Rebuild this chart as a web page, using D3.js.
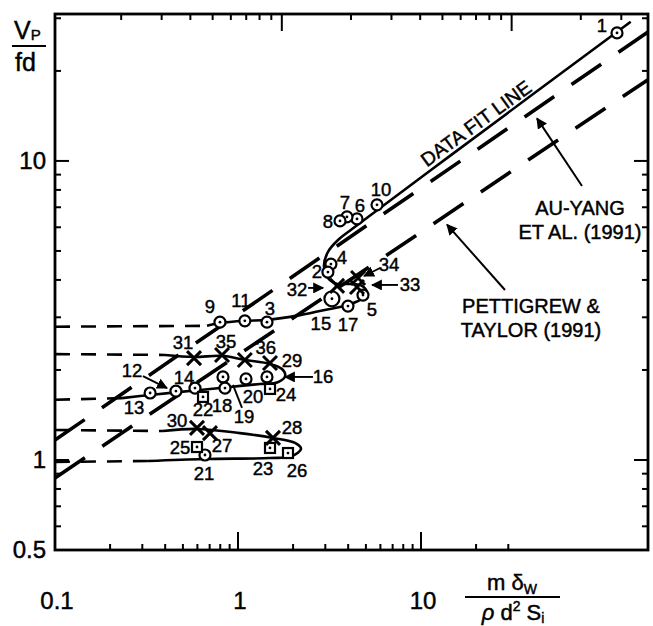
<!DOCTYPE html>
<html><head><meta charset="utf-8">
<script src="https://cdn.jsdelivr.net/npm/d3@7"></script>
<style>
body{margin:0;background:#fff}
svg text{font-family:"Liberation Sans",Arial,Helvetica,sans-serif;fill:#000;stroke:#000;stroke-width:0.45px}
</style></head><body>
<svg id="chart" width="653" height="626"></svg>
<script>
// ---------- data ----------
// reduced mass-damping parameter (x) vs reduced velocity Vp/fd (y)
const bottomMinor = [0.2,0.3,0.4,0.5,0.6,0.7,0.8,0.9,2,3,4,5,6,7,8,9,20,30];
const bottomMajor = [1,10];
const bottomLabels = ["0.1","1","10"];
const bottomLabelValues = [0.1,1,10];
const topMinor = [0.2,0.3,0.4,0.5,0.6,0.7,0.8,0.9,2,3,4,5,6,7,8,9,20,30];
const topMajor = [1,10];
const yMinor = [0.6,0.7,0.8,0.9,2,3,4,5,6,7,8,9,20,30];
const yMajor = [1,10];
const yLabels = ["0.5","1","10"];
const yLabelValues = [0.5,1,10];

// data points: circles (with centre dot), squares, crosses
const circlePts = [
  {id:"1",x:117.8,y:26.8},{id:"10",x:5.75,y:7.13},{id:"6",x:4.47,y:6.40},
  {id:"7",x:3.94,y:6.50},{id:"8",x:3.61,y:6.30},{id:"4",x:3.22,y:4.52},
  {id:"2",x:3.10,y:4.25},{id:"3",x:1.44,y:2.89},{id:"9",x:0.797,y:2.89},
  {id:"11",x:1.09,y:2.92},{id:"15",x:3.26,y:3.46,big:true},{id:"17",x:3.99,y:3.27},
  {id:"5",x:4.82,y:3.56},
  {id:"13",x:0.331,y:1.675},{id:"12",x:0.458,y:1.70},{id:"14",x:0.582,y:1.74},
  {id:"19",x:0.828,y:1.895},{id:"18",x:0.849,y:1.74},{id:"20",x:1.106,y:1.866},
  {id:"16",x:1.44,y:1.895},{id:"21",x:0.660,y:1.039}
];
const squarePts = [
  {id:"22",x:0.644,y:1.625},{id:"24",x:1.496,y:1.728},{id:"25",x:0.597,y:1.105},
  {id:"23",x:1.496,y:1.097},{id:"26",x:1.876,y:1.055}
];
const crossPts = [
  {id:"31",x:0.575,y:2.19},{id:"35",x:0.818,y:2.245},{id:"36",x:1.09,y:2.16},
  {id:"29",x:1.496,y:2.11},{id:"30",x:0.597,y:1.28},{id:"27",x:0.703,y:1.23},
  {id:"28",x:1.553,y:1.185},{id:"32",x:3.48,y:3.82},{id:"33",x:4.47,y:3.79},
  {id:"34",x:4.53,y:4.06}
];

// faired response curves
const upperLead = [[0.1,2.79],[0.677,2.81]];
const upperCurve = [[0.677,2.81],[0.797,2.87],[1.09,2.92],[1.44,2.94],[2.18,3.05],
  [3.18,3.20],[3.99,3.30],[4.64,3.43],[5.07,3.62],[4.76,3.82],[4.09,3.88],[3.48,3.88],
  [3.10,4.06],[2.95,4.46],[3.10,4.96],[3.52,5.44],[4.20,5.92],[14.4,10.4],[140,29.2]];
const midLead = [[0.1,2.26],[0.399,2.245]];
const midCurve = [[0.399,2.245],[0.575,2.21],[0.818,2.23],[1.09,2.16],[1.496,2.095],
  [1.74,2.015],[1.81,1.91],[1.65,1.82],[1.32,1.795],[0.904,1.755],[0.620,1.714],
  [0.331,1.65],[0.2324,1.61]];
const midTail = [[0.2324,1.61],[0.1,1.59]];
const lowLead = [[0.1,1.26],[0.389,1.25]];
const lowCurve = [[0.389,1.25],[0.597,1.27],[1.025,1.23],[1.553,1.185],[2.05,1.14],
  [2.21,1.089],[1.97,1.03],[1.496,1.015],[0.660,1.008],[0.322,0.992]];
const lowTail = [[0.322,0.992],[0.1,0.985]];

// design lines
const auYangLine = [[0.1,1.166],[174,27.0]];
const pettigrewLine = [[0.1,0.871],[174,18.7]];

// ---------- layout ----------
const x = d3.scaleLog().domain([0.1,174]).range([55,648]);
const xTop = d3.scaleLog().domain([0.1,40]).range([52,650]);
const y = d3.scaleLog().domain([0.5,31]).range([550,14]);

// label placement relative to each marker (pixels)
const labelOffset = {
  "1":[-15,-7],"10":[4,-15],"6":[3,-13],"7":[-2,-14],"8":[-12,1],"4":[11,-7],
  "2":[-11,-1],"3":[3,-14],"9":[-10,-16],"11":[-4,-20],"15":[-11,25],"17":[0,18],
  "5":[9,14],"13":[-16,15],"12":[-44,-21],"14":[-11,-11],"19":[21,40],"18":[-3,17],
  "20":[7,18],"16":[56,0],"21":[-1,18],"22":[0,13],"24":[16,6],"25":[-17,0],
  "23":[-7,21],"26":[9,17],"31":[-11,-16],"35":[4,-13],"36":[21,-12],"29":[22,-3],
  "30":[-20,-7],"27":[12,12],"28":[19,-10],"32":[-40,4],"33":[53,-2],"34":[31,-14]
};
const pointerLines = [
  {id:"33",from:[41,-2],to:[15,-2],head:true},
  {id:"34",from:[22,-10],to:[6,-2],head:true},
  {id:"32",from:[-29,2],to:[-14,2],head:true},
  {id:"16",from:[46,0],to:[18,0],head:true},
  {id:"12",from:[-33,-15],to:[-9,-3],head:true},
  {id:"19",from:[19,31],to:[10,8],head:false}
];

const svg = d3.select("#chart");
const defs = svg.append("defs");
defs.append("marker").attr("id","ah").attr("viewBox","0 0 10 10")
  .attr("refX",9).attr("refY",5).attr("markerWidth",11).attr("markerHeight",11)
  .attr("orient","auto").attr("markerUnits","userSpaceOnUse")
  .append("path").attr("d","M0,0L10,5L0,10z").attr("fill","#000");

const g = svg.append("g");

// frame
const x0 = x.range()[0], x1 = x.range()[1], yb = y.range()[0], yt = y.range()[1];
g.append("rect").attr("x",x0).attr("y",yt).attr("width",x1-x0).attr("height",yb-yt)
  .attr("fill","none").attr("stroke","#000").attr("stroke-width",2.8);

// ticks (all pointing inward)
const tk = g.append("g").attr("stroke","#000").attr("stroke-width",2);
function hTicks(vals,len,scale,yPos,dir){
  tk.selectAll(null).data(vals).enter().append("line")
    .attr("x1",d=>scale(d)).attr("x2",d=>scale(d))
    .attr("y1",yPos).attr("y2",yPos+dir*len);
}
function vTicks(vals,len,xPos,dir){
  tk.selectAll(null).data(vals).enter().append("line")
    .attr("y1",d=>y(d)).attr("y2",d=>y(d))
    .attr("x1",xPos).attr("x2",xPos+dir*len);
}
hTicks(bottomMinor,6,x,yb,-1);
hTicks(bottomMajor,18,x,yb,-1);
hTicks(topMinor,6,xTop,yt,1);
hTicks(topMajor,17,xTop,yt,1);
vTicks(yMinor,6,x0,1);
vTicks(yMajor,14,x0,1);
vTicks(yMinor,6,x1,-1);
vTicks(yMajor,14,x1,-1);

// tick labels
g.selectAll(null).data(bottomLabelValues).enter().append("text")
  .attr("x",d=>x(d)+2).attr("y",609).attr("text-anchor","middle")
  .attr("font-size",24).text((d,i)=>bottomLabels[i]);
g.selectAll(null).data(yLabelValues).enter().append("text")
  .attr("x",46).attr("y",d=>y(d)+8).attr("text-anchor","end")
  .attr("font-size",24).text((d,i)=>yLabels[i]);

// axis titles
const yt1 = g.append("text").attr("x",14).attr("y",39).attr("font-size",25);
yt1.append("tspan").text("V");
yt1.append("tspan").attr("font-size",15).attr("dy",1).text("P");
g.append("line").attr("x1",12).attr("x2",46).attr("y1",46).attr("y2",46)
  .attr("stroke","#000").attr("stroke-width",2.2);
g.append("text").attr("x",15).attr("y",71).attr("font-size",25).text("fd");

const xt1 = g.append("text").attr("x",512).attr("y",590).attr("font-size",22).attr("text-anchor","middle");
xt1.append("tspan").text("m δ");
xt1.append("tspan").attr("font-size",14).attr("dy",4).text("W");
g.append("line").attr("x1",465).attr("x2",560).attr("y1",597).attr("y2",597)
  .attr("stroke","#000").attr("stroke-width",2.2);
const xt2 = g.append("text").attr("x",513).attr("y",620).attr("font-size",22).attr("text-anchor","middle");
xt2.append("tspan").attr("font-style","italic").text("ρ");
xt2.append("tspan").text(" d");
xt2.append("tspan").attr("font-size",14).attr("dy",-9).text("2");
xt2.append("tspan").attr("dy",9).text(" S");
xt2.append("tspan").attr("font-size",14).attr("dy",3).text("i");

// lines
const line = d3.line().x(d=>x(d[0])).y(d=>y(d[1]));
const curve = d3.line().x(d=>x(d[0])).y(d=>y(d[1])).curve(d3.curveCatmullRom.alpha(0.5));
const lg = g.append("g").attr("fill","none").attr("stroke","#000");

lg.append("path").attr("d",line(auYangLine)).attr("stroke-width",3.6).attr("stroke-dasharray","36,21");
lg.append("path").attr("d",line(pettigrewLine)).attr("stroke-width",3.6).attr("stroke-dasharray","36,21");

[upperLead,midLead,midTail,lowLead,lowTail].forEach(s=>{
  lg.append("path").attr("d",line(s)).attr("stroke-width",2.6).attr("stroke-dasharray","15,11");
});
[upperCurve,midCurve,lowCurve].forEach(s=>{
  lg.append("path").attr("d",curve(s)).attr("stroke-width",2.6).attr("stroke-linejoin","round");
});

// markers
const mg = g.append("g");
circlePts.forEach(p=>{
  const cx=x(p.x), cy=y(p.y), r=p.big?7.5:5.5;
  mg.append("circle").attr("cx",cx).attr("cy",cy).attr("r",r)
    .attr("fill","#fff").attr("stroke","#000").attr("stroke-width",2.2);
  mg.append("circle").attr("cx",cx).attr("cy",cy).attr("r",1.4).attr("fill","#000");
});
squarePts.forEach(p=>{
  const cx=x(p.x), cy=y(p.y), s=10;
  mg.append("rect").attr("x",cx-s/2).attr("y",cy-s/2).attr("width",s).attr("height",s)
    .attr("fill","#fff").attr("stroke","#000").attr("stroke-width",2.2);
  mg.append("circle").attr("cx",cx).attr("cy",cy).attr("r",1.4).attr("fill","#000");
});
crossPts.forEach(p=>{
  const cx=x(p.x), cy=y(p.y), s=7;
  mg.append("path").attr("d",`M${cx-s},${cy-s}L${cx+s},${cy+s}M${cx-s},${cy+s}L${cx+s},${cy-s}`)
    .attr("stroke","#000").attr("stroke-width",3);
});

// point numbers
const allPts = circlePts.concat(squarePts, crossPts);
const byId = {}; allPts.forEach(p=>byId[p.id]=p);
allPts.forEach(p=>{
  const o = labelOffset[p.id]||[0,-14];
  g.append("text").attr("x",x(p.x)+o[0]).attr("y",y(p.y)+o[1]+6.5)
    .attr("text-anchor","middle").attr("font-size",18.5).text(p.id);
});
pointerLines.forEach(a=>{
  const p = byId[a.id], px=x(p.x), py=y(p.y);
  const l = g.append("line").attr("x1",px+a.from[0]).attr("y1",py+a.from[1])
    .attr("x2",px+a.to[0]).attr("y2",py+a.to[1]).attr("stroke","#000").attr("stroke-width",1.9);
  if(a.head) l.attr("marker-end","url(#ah)");
});

// annotations
g.append("text").attr("font-size",19.5)
  .attr("transform",`translate(${x(14.4)+30},${y(10.4)-27}) rotate(-36)`)
  .attr("text-anchor","middle").text("DATA FIT LINE");

const ann = [
  {lines:["AU-YANG","ET AL. (1991)"],cx:580,y0:215},
  {lines:["PETTIGREW &","TAYLOR (1991)"],cx:531,y0:313}
];
ann.forEach(a=>a.lines.forEach((t,i)=>{
  g.append("text").attr("x",a.cx).attr("y",a.y0+i*24).attr("text-anchor","middle")
    .attr("font-size",20).text(t);
}));
// annotation arrows to the design lines
const annArrows = [
  {from:[582,186],toX:x.invert(537)},
  {from:[505,290],toX:x.invert(447)}
];
const designLines = [auYangLine,pettigrewLine];
annArrows.forEach((a,i)=>{
  const L = designLines[i];
  // point on the design line at toX (log-linear interpolation)
  const t = (Math.log(a.toX)-Math.log(L[0][0]))/(Math.log(L[1][0])-Math.log(L[0][0]));
  const ty = Math.exp(Math.log(L[0][1])+t*(Math.log(L[1][1])-Math.log(L[0][1])));
  g.append("line").attr("x1",a.from[0]).attr("y1",a.from[1])
    .attr("x2",x(a.toX)).attr("y2",y(ty)+10)
    .attr("stroke","#000").attr("stroke-width",2).attr("marker-end","url(#ah)");
});
</script>
</body></html>
